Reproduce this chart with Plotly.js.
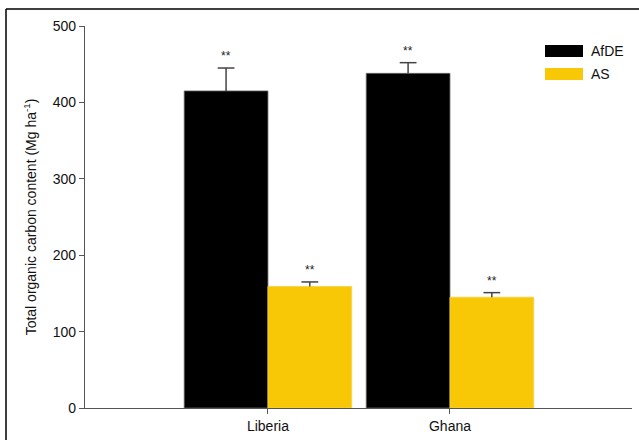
<!DOCTYPE html>
<html>
<head>
<meta charset="utf-8">
<script src="https://cdn.plot.ly/plotly-3.0.1.min.js"></script>
<style>html,body{margin:0;padding:0;background:#fff;}</style>
</head>
<body>
<div id="chart" style="width:639px;height:440px;"></div>
<script>
const categories = ["Liberia", "Ghana"];
const afdeValues = [415, 438];
const afdeErrors = [30, 14];
const asValues = [159, 145];
const asErrors = [6, 6];
const seriesNames = ["AfDE", "AS"];
const significance = ["**", "**"];
const yTicks = [0, 100, 200, 300, 400, 500];

const colors = {AfDE: "#000000", AS: "#F8C807"};
const outlines = {AfDE: "#666666", AS: "#F5D040"};
const offset = 0.23;
const barWidth = 0.46;
const idx = categories.map((c, i) => i);

const series = [
  {name: seriesNames[0], values: afdeValues, errors: afdeErrors, shift: -offset},
  {name: seriesNames[1], values: asValues, errors: asErrors, shift: offset}
];

const traces = [];
series.forEach(s => {
  const xs = idx.map(i => i + s.shift);
  traces.push({
    type: "bar", name: s.name, x: xs, y: s.values, width: barWidth,
    marker: {color: colors[s.name], line: {color: outlines[s.name], width: 0.8}},
    showlegend: false, hoverinfo: "skip"
  });
});
// one-sided (upward) error bars: stems + caps
series.forEach(s => {
  const sx = [], sy = [];
  idx.forEach(i => {
    sx.push(i + s.shift, i + s.shift, null);
    sy.push(s.values[i], s.values[i] + s.errors[i], null);
  });
  traces.push({type: "scatter", mode: "lines", x: sx, y: sy,
    line: {color: "#444", width: 1.5}, showlegend: false, hoverinfo: "skip"});
  traces.push({type: "scatter", mode: "markers",
    x: idx.map(i => i + s.shift), y: idx.map(i => s.values[i] + s.errors[i]),
    marker: {symbol: "line-ew", size: 12, line: {color: "#444", width: 1.5}},
    showlegend: false, hoverinfo: "skip"});
});

const annotations = [];
series.forEach(s => {
  idx.forEach(i => {
    annotations.push({x: i + s.shift, y: s.values[i] + s.errors[i], xref: "x", yref: "y",
      text: significance[i], showarrow: false, yshift: 12,
      font: {family: "Liberation Sans, Arial", size: 12, color: "#222"}});
  });
});

// legend (custom, to match wide swatches)
const legendShapes = [];
seriesNames.forEach((n, i) => {
  const yTop = 1 - (45 - 26 + i * 23) / 382;
  const yBot = 1 - (57 - 26 + i * 23) / 382;
  legendShapes.push({type: "rect", xref: "paper", yref: "paper",
    x0: (545 - 85) / 547, x1: (583 - 85) / 547, y0: yBot, y1: yTop,
    fillcolor: colors[n], line: {width: 0}});
  annotations.push({xref: "paper", yref: "paper", x: (589 - 85) / 547, y: (yTop + yBot) / 2,
    xanchor: "left", yanchor: "middle", text: n, showarrow: false,
    font: {family: "Liberation Sans, Arial", size: 14, color: "#111"}});
});

// outer frame (left and top edges)
const frameShapes = [
  {type: "line", xref: "paper", yref: "paper", x0: (6 - 85) / 547, x1: (6 - 85) / 547,
   y0: (408 - 440) / 382, y1: (408 - 9) / 382, line: {color: "#000", width: 1.5}},
  {type: "line", xref: "paper", yref: "paper", x0: (6 - 85) / 547, x1: (639 - 85) / 547,
   y0: (408 - 9) / 382, y1: (408 - 9) / 382, line: {color: "#000", width: 1.5}}
];

const layout = {
  width: 639, height: 440,
  margin: {l: 85, r: 7, t: 26, b: 32},
  paper_bgcolor: "#fff", plot_bgcolor: "#fff",
  barmode: "overlay",
  font: {family: "Liberation Sans, Arial", size: 14, color: "#111"},
  xaxis: {
    type: "linear", range: [-1.005, 2.0], tickvals: idx, ticktext: categories,
    showline: true, linecolor: "#555", linewidth: 1.2,
    ticks: "outside", ticklen: 5, tickcolor: "#555", showgrid: false, zeroline: false,
    tickfont: {size: 14, color: "#111"}
  },
  yaxis: {
    range: [0, 500], tickvals: yTicks, showline: true, linecolor: "#555", linewidth: 1.2,
    ticks: "outside", ticklen: 5, tickcolor: "#555", showgrid: false, zeroline: false,
    tickfont: {size: 14, color: "#111"},
    title: {text: "Total organic carbon content (Mg ha<sup>-1</sup>)", font: {size: 14, color: "#111"}, standoff: 12}
  },
  annotations: annotations,
  shapes: frameShapes.concat(legendShapes),
  showlegend: false
};

Plotly.newPlot("chart", traces, layout, {displayModeBar: false, staticPlot: true});
</script>
</body>
</html>
